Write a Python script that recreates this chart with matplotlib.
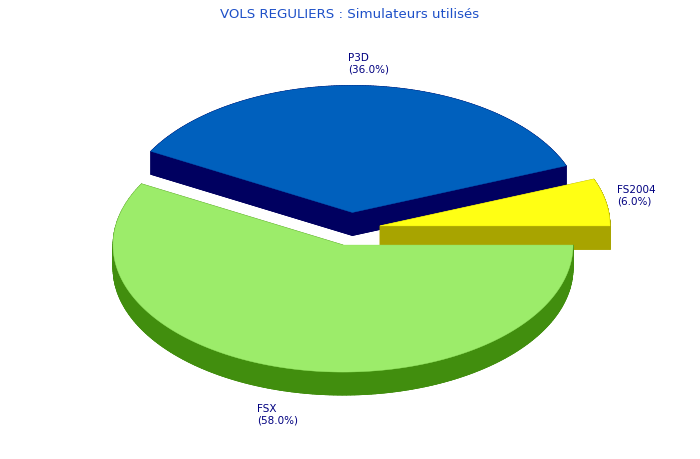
import numpy as np
import matplotlib
matplotlib.use("Agg")
import matplotlib.pyplot as plt
from matplotlib.patches import Polygon
from matplotlib.collections import PolyCollection

# ---- data ----
labels = ["FS2004", "P3D", "FSX"]
values = [6.0, 36.0, 58.0]
top_colors = ["#FFFF14", "#0060BD", "#9CEC6A"]
side_colors = ["#A8A400", "#000060", "#418E0E"]
title = "VOLS REGULIERS : Simulateurs utilisés"

# ---- geometry (pixels) ----
W, H = 700, 460
cx, cy = 350.5, 230.0
rx, ry = 230.0, 127.0
depth = 23.0
explode = 30.0

fig = plt.figure(figsize=(W / 100, H / 100), dpi=100)
ax = fig.add_axes([0, 0, 1, 1])
ax.set_xlim(0, W)
ax.set_ylim(H, 0)
ax.axis("off")

total = sum(values)
angles = np.cumsum([0] + [v / total * 360 for v in values])

# drawing order: back slices first
order = [1, 0, 2]
slice_geo = {}
for i in range(len(values)):
    a0, a1 = angles[i], angles[i + 1]
    mid = np.radians((a0 + a1) / 2)
    ex = cx + explode * np.cos(mid)
    ey = cy - explode * (ry / rx) * np.sin(mid)
    t = np.radians(np.linspace(a0, a1, 200))
    pts = [(ex, ey)] + [(ex + rx * np.cos(a), ey - ry * np.sin(a)) for a in t]
    slice_geo[i] = (ex, ey, mid, np.array(pts))

for i in order:
    ex, ey, mid, P = slice_geo[i]
    Q = P + np.array([0, depth])
    quads = []
    n = len(P)
    for k in range(n):
        k2 = (k + 1) % n
        quads.append([P[k], P[k2], Q[k2], Q[k]])
    pc = PolyCollection(quads, facecolors=side_colors[i], edgecolors=side_colors[i],
                        linewidths=0.6)
    ax.add_collection(pc)
    ax.add_patch(Polygon(Q, closed=True, facecolor=side_colors[i],
                         edgecolor=side_colors[i], linewidth=0.6))
    ax.add_patch(Polygon(P, closed=True, facecolor=top_colors[i],
                         edgecolor=top_colors[i], linewidth=0.3))

# ---- labels ----
fig.canvas.draw()
renderer = fig.canvas.get_renderer()
for i in range(len(values)):
    ex, ey, mid, P = slice_geo[i]
    c, s = np.cos(mid), np.sin(mid)
    lx = ex + (rx + 12) * c
    ly = ey - (ry + 12) * s
    if s < 0:
        ly += depth
    txt = ax.text(0, 0, f"{labels[i]}\n({values[i]:.1f}%)", fontsize=7.5,
                  color="#000080", ha="left", va="top", family="DejaVu Sans",
                  linespacing=1.25)
    bb = txt.get_window_extent(renderer=renderer)
    w, h = bb.width, bb.height
    fx = (1 - c) / 2
    fy = 0.5 + 0.5 * np.clip(s * 2.5, -1, 1)
    txt.set_position((lx - fx * w, ly - fy * h))

ax.text(W / 2, 8, title, fontsize=9.6, color="#1E50C8", ha="center", va="top",
        family="DejaVu Sans")

fig.savefig("out.png", dpi=100)
